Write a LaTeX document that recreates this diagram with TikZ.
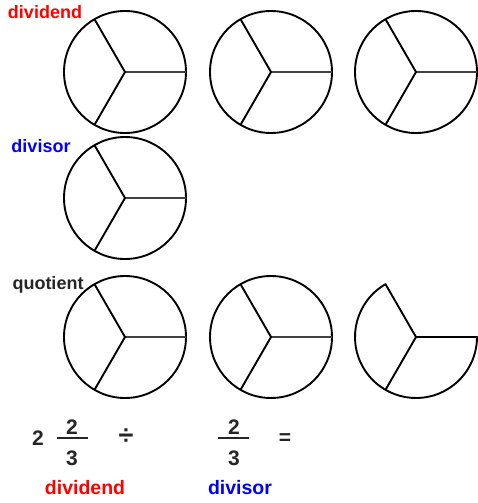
\documentclass[tikz,border=0pt]{standalone}
\usepackage{fontspec}
\setmainfont{Liberation Sans}
\begin{document}
\begin{tikzpicture}[x=1pt,y=-1pt,
  pie/.style={circle,draw=black,line width=1.9pt,minimum size=122pt,inner sep=0pt,outer sep=0pt},
  spoke/.style={line width=1.9pt,draw=black},
  hspoke/.style={line width=1.6pt,draw=black!75},
  lbl/.style={font=\bfseries\fontsize{18}{20}\selectfont,inner sep=0pt},
  blbl/.style={font=\bfseries\fontsize{19.5}{21}\selectfont,inner sep=0pt},
  num/.style={font=\bfseries\fontsize{21}{23}\selectfont,inner sep=0pt,text=black!85},
  bar/.style={line width=2.4pt,draw=black!85}]
\useasboundingbox (0,0) rectangle (478,503);
\fill[white] (0,0) rectangle (478,503);
% row 1
\node[pie] (a1) at (125,72) {};
\node[pie] (a2) at (271,72) {};
\node[pie] (a3) at (416,72) {};
% row 2
\node[pie] (b1) at (125,198) {};
% row 3
\node[pie] (c1) at (125,337) {};
\node[pie] (c2) at (271,337) {};
\foreach \n in {a1,a2,a3,b1,c1,c2}{
  \draw[hspoke] (\n.center) -- (\n.0);
  \draw[spoke] (\n.120) -- (\n.center) -- (\n.240);
}
% partial pie
\coordinate (p) at (416,337);
\draw[spoke,line join=round] (p) -- ++(-120:61) arc[start angle=-120,end angle=-360,radius=61] -- cycle;
\draw[spoke] (p) -- ++(-240:61);
% labels
\node[lbl,text=red] (l1) at (45,12) {dividend};
\node[lbl,text=blue] (l2) at (41,146) {divisor};
\node[lbl,text=black!85] (l3) at (48,285) {quotient};
% equation
\node[num] (w) at (38,438) {2};
\coordinate (f1l) at (57,438);
\coordinate (f1r) at (88,438);
\draw[bar] (f1l) -- (f1r);
\node[num] (n1) at (72,427) {2};
\node[num] (d1) at (72,458) {3};
\node[num,font=\bfseries\fontsize{27}{29}\selectfont] (dv) at (126,437) {÷};
\coordinate (f2l) at (218,438);
\coordinate (f2r) at (249,438);
\draw[bar] (f2l) -- (f2r);
\node[num] (n2) at (234,427) {2};
\node[num] (d2) at (234,458) {3};
\node[num] (eq) at (285,439) {=};
\node[blbl,text=red] (l4) at (85,488) {dividend};
\node[blbl,text=blue] (l5) at (240,488) {divisor};
\end{tikzpicture}
\end{document}
